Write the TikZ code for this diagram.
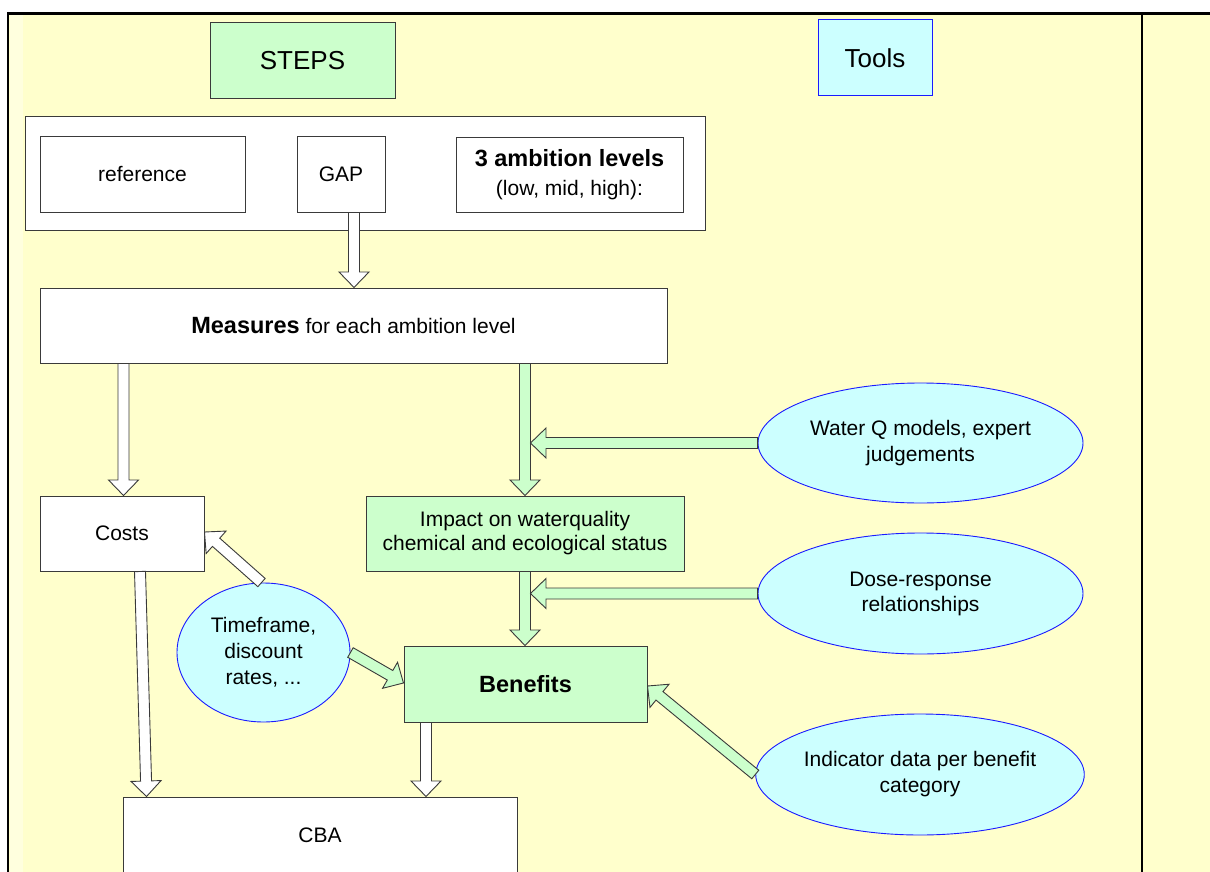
\documentclass[tikz,border=0pt]{standalone}
\usepackage{fontspec}
\setmainfont{Liberation Sans}
\usetikzlibrary{calc,shapes.geometric}

\definecolor{bgyellow}{HTML}{FFFFCC}
\definecolor{stripyellow}{HTML}{FFFFDE}
\definecolor{stepgreen}{HTML}{CCFFCC}
\definecolor{toolcyan}{HTML}{CCFFFF}
\definecolor{edgegray}{HTML}{3A3A3A}
\definecolor{toolblue}{HTML}{1A1AFF}

\newcommand\regfont{\fontsize{21}{25}\selectfont}
\newcommand\bigbold{\fontsize{23.5}{25}\selectfont\bfseries}
\newcommand\titlefont{\fontsize{26}{30}\selectfont}

% block arrow: outlined shaft and head, from #2 to #3
\newcommand\shafthw{5.5pt}
\newcommand\headhw{15pt}
\newcommand\headlen{15.5pt}
\newcommand\blockarrow[3][]{%
  \coordinate (ba-s) at (#2);
  \coordinate (ba-e) at (#3);
  \coordinate (ba-h) at ($(ba-e)!\headlen!(ba-s)$);
  \draw[arrowbody,#1]
    ($(ba-s)!\shafthw!90:(ba-e)$) -- ($(ba-h)!\shafthw!90:(ba-e)$) --
    ($(ba-h)!\headhw!90:(ba-e)$) -- (ba-e) --
    ($(ba-h)!\headhw!-90:(ba-e)$) -- ($(ba-h)!\shafthw!-90:(ba-e)$) --
    ($(ba-s)!\shafthw!-90:(ba-e)$) -- cycle;
}

\begin{document}
\begin{tikzpicture}[x=1pt,y=-1pt,
  box/.style={draw=edgegray, line width=1pt, fill=white, inner sep=0pt,
    align=center, font=\regfont},
  greenbox/.style={box, fill=stepgreen},
  toolbox/.style={box, draw=toolblue, fill=toolcyan},
  tool/.style={ellipse, draw=toolblue, line width=0.9pt, fill=toolcyan,
    inner sep=0pt, align=center, font=\regfont},
  arrowbody/.style={draw=edgegray, line width=0.9pt, line join=miter, fill=white},
  greenarrow/.style={fill=stepgreen},
]
\useasboundingbox (0,0) rectangle (1210,872);

% page frame
\fill[bgyellow] (8,13) rectangle (1210,872);
\fill[stripyellow] (9.5,15) rectangle (23,872);
\draw[line width=3pt] (7,13.5) -- (1210,13.5);
\draw[line width=2.5pt] (8,12) -- (8,872);
\draw[line width=2pt] (1142,14.5) -- (1142,872);

% headings
\node[greenbox, minimum width=185, minimum height=76, font=\titlefont]
  (steps) at (302.5,61) {STEPS};
\node[toolbox, minimum width=114, minimum height=76, font=\titlefont]
  (tools) at (875,58) {Tools};

% scenario group
\node[box, minimum width=680, minimum height=113] (group) at (365,173.5) {};
\node[box, minimum width=205, minimum height=75] (reference) at (142.5,174.5) {reference};
\node[box, minimum width=88, minimum height=75] (gap) at (341,174.5) {GAP};
\node[box, minimum width=227, minimum height=75] (ambition) at (569.5,175)
  {{\bigbold 3 ambition levels}\\[4pt](low, mid, high):};

% steps
\node[box, minimum width=627, minimum height=75] (measures) at (353.5,325.5)
  {{\bigbold Measures} for each ambition level};
\node[box, minimum width=164, minimum height=75] (costs) at (122,533.5) {Costs};
\node[greenbox, minimum width=318, minimum height=75] (impact) at (525,533.5)
  {Impact on waterquality\\[-1pt]chemical and ecological status};
\node[greenbox, minimum width=243, minimum height=76] (benefits) at (525.5,684)
  {\bigbold Benefits};
\node[box, minimum width=394, minimum height=76] (cba) at (320,835) {CBA};

% tools
\node[tool, minimum width=325, minimum height=120] (waterq) at (920.5,443)
  {Water Q models, expert\\[1pt]judgements};
\node[tool, minimum width=325, minimum height=121] (dose) at (920.5,593.5)
  {Dose-response\\[0pt]relationships};
\node[tool, minimum width=324, minimum height=121] (indicator) at (920,774.5)
  {Indicator data per benefit\\[1pt]category};
\node[tool, minimum width=173, minimum height=139] (timeframe) at (263.5,652.5)
  {Timeframe,\\[1pt]discount\\[1pt]rates, ...};

% flow
\blockarrow{[xshift=13]gap.south}{[xshift=13]gap.south |- measures.north}
\blockarrow{[xshift=1.5]costs.north |- measures.south}{[xshift=1.5]costs.north}
\blockarrow[greenarrow]{impact.north |- measures.south}{impact.north}
\blockarrow[greenarrow]{waterq.west}{[xshift=5.5]impact.north |- waterq.west}
\blockarrow[greenarrow]{impact.south}{impact.south |- benefits.north}
\blockarrow[greenarrow]{dose.west}{[xshift=5.5]impact.south |- dose.west}
\blockarrow{[xshift=18]costs.south}{[xshift=24]cba.north west}
\blockarrow{[xshift=-2]timeframe.north}{$(costs.east)+(0,-1.5)$}
\blockarrow[greenarrow]{timeframe.east}{$(benefits.west)+(0,-1)$}
\blockarrow[greenarrow]{indicator.west}{$(benefits.east)+(0,2)$}
\blockarrow{[xshift=22.5]benefits.south west}{[xshift=22.5]benefits.south west |- cba.north}
\end{tikzpicture}
\end{document}
